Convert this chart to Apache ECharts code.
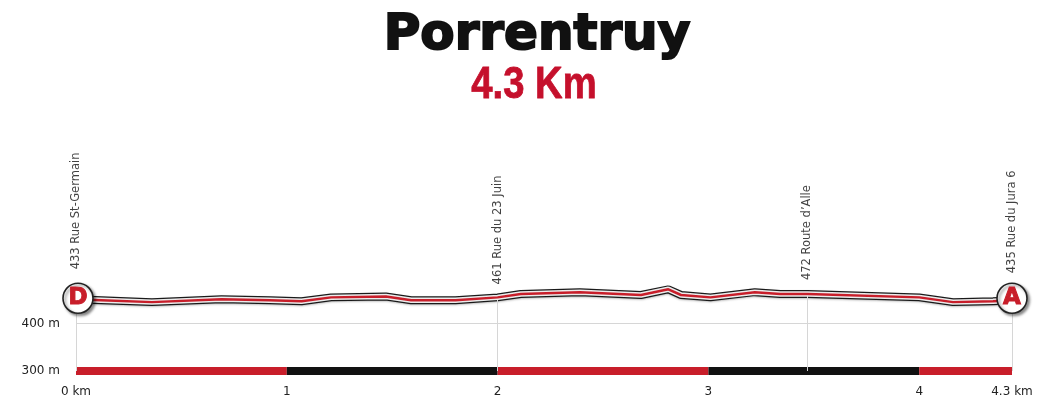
<!DOCTYPE html>
<html>
<head>
<meta charset="utf-8">
<script src="https://cdn.jsdelivr.net/npm/echarts@6/dist/echarts.min.js"></script>
<style>
  html, body { margin: 0; padding: 0; background: #fff; }
  #chart { width: 1050px; height: 405px; }
</style>
</head>
<body>
<div id="chart"></div>
<script>
// profil altimétrique (km, m)
const profileKm   = [0, 0.12, 0.36, 0.69, 0.92, 1.07, 1.21, 1.47, 1.59, 1.80, 2.00, 2.11, 2.39, 2.68, 2.81, 2.87, 3.01, 3.22, 3.34, 3.47, 4.00, 4.16, 4.35, 4.44]
const profileElev = [451, 449, 445, 451, 449, 447, 455, 457, 449, 449, 455, 462, 466, 460, 472, 460, 455, 466, 462, 462, 455, 445, 447, 449]

// points de passage
const wpKm    = [0, 2.0, 3.47, 4.44]
const wpElev  = [451, 455, 462, 449]
const wpNames = ['433 Rue St-Germain', '461 Rue du 23 Juin', '472 Route d’Alle', '435 Rue du Jura 6']
const wpGap   = [30, 13, 14, 27]

// bande kilométrique
const kmBounds = [0, 1, 2, 3, 4, 4.44]

const xTickValues = [0, 1, 2, 3, 4, 4.44]
const xTickLabels = ['0 km', '1', '2', '3', '4', '4.3 km']
const yTickValues = [300, 400]

const RED = '#c81e2a'
const profile = profileKm.map((k, i) => [k, profileElev[i]])
const bands = kmBounds.slice(0, -1).map((k, i) => [k, kmBounds[i + 1]])
const maxKm = kmBounds[kmBounds.length - 1]

const chart = echarts.init(document.getElementById('chart'))
chart.setOption({
  animation: false,
  grid: { left: 76, right: 38, top: 276, bottom: 34 },
  graphic: [
    {
      type: 'text', x: 537, y: 11, silent: true,
      style: {
        text: 'Porrentruy', textAlign: 'center', textVerticalAlign: 'top',
        font: 'bold 50px "DejaVu Sans"', fill: '#111', stroke: '#111', lineWidth: 2,
      },
    },
    {
      type: 'text', x: 534, y: 63, scaleX: 0.85, silent: true,
      style: {
        text: '4.3 Km', textAlign: 'center', textVerticalAlign: 'top',
        font: 'bold 45px "Liberation Sans"', fill: '#c5102c', stroke: '#c5102c', lineWidth: 0.8,
      },
    },
  ],
  xAxis: {
    type: 'value', min: 0, max: maxKm,
    axisLine: { show: false }, axisTick: { show: false }, splitLine: { show: false },
    axisLabel: {
      customValues: xTickValues,
      formatter: v => xTickLabels[xTickValues.indexOf(v)],
      margin: 15, fontSize: 12, color: '#222', fontFamily: 'DejaVu Sans',
    },
  },
  yAxis: {
    type: 'value', min: 300, max: 500,
    axisLine: { show: false }, axisTick: { show: false }, splitLine: { show: false },
    axisLabel: {
      customValues: yTickValues, formatter: '{value} m',
      margin: 16, fontSize: 12, color: '#222', fontFamily: 'DejaVu Sans',
    },
  },
  series: [
    {
      // lignes de repère
      type: 'line', data: [], silent: true,
      markLine: {
        symbol: ['none', 'none'], silent: true, label: { show: false },
        lineStyle: { color: '#d6d6d6', width: 1, type: 'solid' },
        data: [
          [{ coord: [0, 400] }, { coord: [maxKm, 400] }],
          ...wpKm.map((k, i) => [{ coord: [k, 300] }, { coord: [k, wpElev[i]] }]),
        ],
      },
    },
    {
      type: 'custom', silent: true, z: 3,
      encode: { x: [0, 1] },
      data: bands,
      renderItem(params, api) {
        const s = api.coord([api.value(0), 300])
        const e = api.coord([api.value(1), 300])
        return {
          type: 'rect',
          shape: { x: s[0], y: s[1] - 4, width: e[0] - s[0], height: 8 },
          style: { fill: params.dataIndex % 2 ? '#111' : RED },
        }
      },
    },
    {
      type: 'line', data: profile, symbol: 'none', silent: true, z: 4,
      lineStyle: { color: '#1a1a1a', width: 8, shadowColor: 'rgba(0,0,0,0.25)', shadowBlur: 2, shadowOffsetY: 1 },
    },
    {
      type: 'line', data: profile, symbol: 'none', silent: true, z: 5,
      lineStyle: { color: '#ececec', width: 5.5 },
    },
    {
      type: 'line', data: profile, symbol: 'none', silent: true, z: 6,
      lineStyle: { color: RED, width: 2.5 },
    },
    {
      // noms des points
      type: 'scatter', symbolSize: 0, silent: true, z: 7,
      data: wpKm.map((k, i) => ({
        value: [k, wpElev[i]], name: wpNames[i],
        label: { distance: wpGap[i] },
      })),
      label: {
        show: true, position: 'top', rotate: 90, align: 'left', verticalAlign: 'middle',
        formatter: '{b}', fontSize: 11.5, color: '#111', fontFamily: 'DejaVu Sans',
      },
    },
    {
      // départ / arrivée
      type: 'scatter', symbol: 'circle', symbolSize: 30, silent: true, z: 8,
      data: [
        { value: [0, profileElev[0]], name: 'D', symbolOffset: [2, -1] },
        { value: [maxKm, profileElev[profileElev.length - 1]], name: 'A', symbolOffset: [0, -2] },
      ],
      itemStyle: {
        color: '#fff', borderColor: '#222', borderWidth: 1.6, opacity: 1,
        shadowColor: 'rgba(0,0,0,0.45)', shadowBlur: 3, shadowOffsetX: 2, shadowOffsetY: 2,
      },
      label: {
        show: true, position: 'inside', formatter: '{b}',
        fontSize: 23, fontWeight: 'bold', color: RED, fontFamily: 'DejaVu Sans',
        textBorderColor: RED, textBorderWidth: 1,
      },
    },
  ],
})
</script>
</body>
</html>
